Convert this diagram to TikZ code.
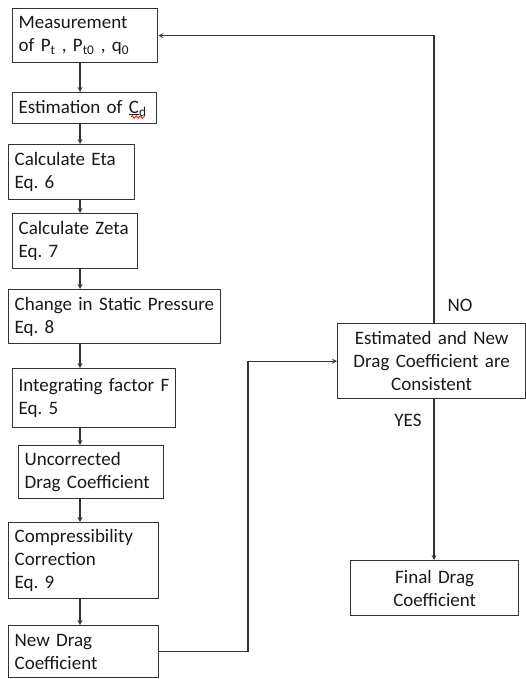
\documentclass[tikz,border=0pt]{standalone}
\usepackage{fontspec}
\setmainfont{Carlito}
\frenchspacing
\usetikzlibrary{decorations.pathmorphing}
\begin{document}
\begin{tikzpicture}[x=1pt, y=-1pt, >=stealth,
		blk/.style={draw=black!80, line width=1.3pt, text=black!90, inner xsep=6pt, inner ysep=3pt, anchor=north west, align=left, font=\fontsize{19}{23}\selectfont},
		lbl/.style={text=black!90, font=\fontsize{19}{23}\selectfont},
		link/.style={draw=black!80, line width=1.2pt}]
			\useasboundingbox (0,0) rectangle (526,679);
			\node[blk, text width=133pt, minimum height=54pt] (meas) at (12,8) {Measurement\\of P\textsubscript{t} , P\textsubscript{t0} , q\textsubscript{0}};
			\node[blk, text width=132pt, minimum height=31pt] (est) at (12,92) {Estimation of \underline{C}\textsubscript{d}};
			\node[blk, text width=114pt, minimum height=55pt] (eta) at (8,144) {Calculate Eta\\Eq. 6};
			\node[blk, text width=113pt, minimum height=55pt] (zeta) at (12,213) {Calculate Zeta\\Eq. 7};
			\node[blk, text width=200pt, minimum height=54pt] (press) at (8,289) {Change in Static Pressure\\Eq. 8};
			\node[blk, text width=151pt, minimum height=59pt] (integ) at (12,368) {Integrating factor F\\ Eq. 5};
			\node[blk, text width=133pt, minimum height=53pt] (uncorr) at (18,445) {Uncorrected\\Drag Coefficient};
			\node[blk, text width=138pt, minimum height=76pt] (compr) at (8,522) {Compressibility\\Correction\\Eq. 9};
			\node[blk, text width=138pt, minimum height=52pt] (newcd) at (8,625) {New Drag\\Coefficient};
			\node[blk, align=center, text width=176pt, minimum height=75pt] (cons) at (337,323) {Estimated and New\\Drag Coefficient are\\Consistent};
			\node[blk, align=center, text width=156pt, minimum height=55pt] (final) at (350,560) {Final Drag\\Coefficient};
			\node[lbl] (no) at (460,305) {NO};
			\node[lbl] (yes) at (408,420) {YES};
			\coordinate (spine) at (80,0);
			\coordinate (bend) at (248,0);
			\coordinate (back) at (434,0);
			\draw[link, ->] (meas.south -| spine) -- (est.north -| spine);
			\draw[link, ->] (est.south -| spine) -- (eta.north -| spine);
			\draw[link, ->] (eta.south -| spine) -- (zeta.north -| spine);
			\draw[link, ->] (zeta.south -| spine) -- (press.north -| spine);
			\draw[link, ->] (press.south -| spine) -- (integ.north -| spine);
			\draw[link, ->] (integ.south -| spine) -- (uncorr.north -| spine);
			\draw[link, ->] (uncorr.south -| spine) -- (compr.north -| spine);
			\draw[link, ->] (compr.south -| spine) -- (newcd.north -| spine);
			\draw[link, ->] (newcd.east) -- (newcd.east -| bend) |- (cons.west);
			\draw[link, ->] (cons.north -| back) |- (meas.east);
			\draw[link, ->] (cons.south -| back) -- (final.north -| back);
			\draw[red, line width=0.8pt, decorate, decoration={snake, amplitude=1.2pt, segment length=4pt}] (131,117) -- (145,117);
		\end{tikzpicture}
\end{document}
